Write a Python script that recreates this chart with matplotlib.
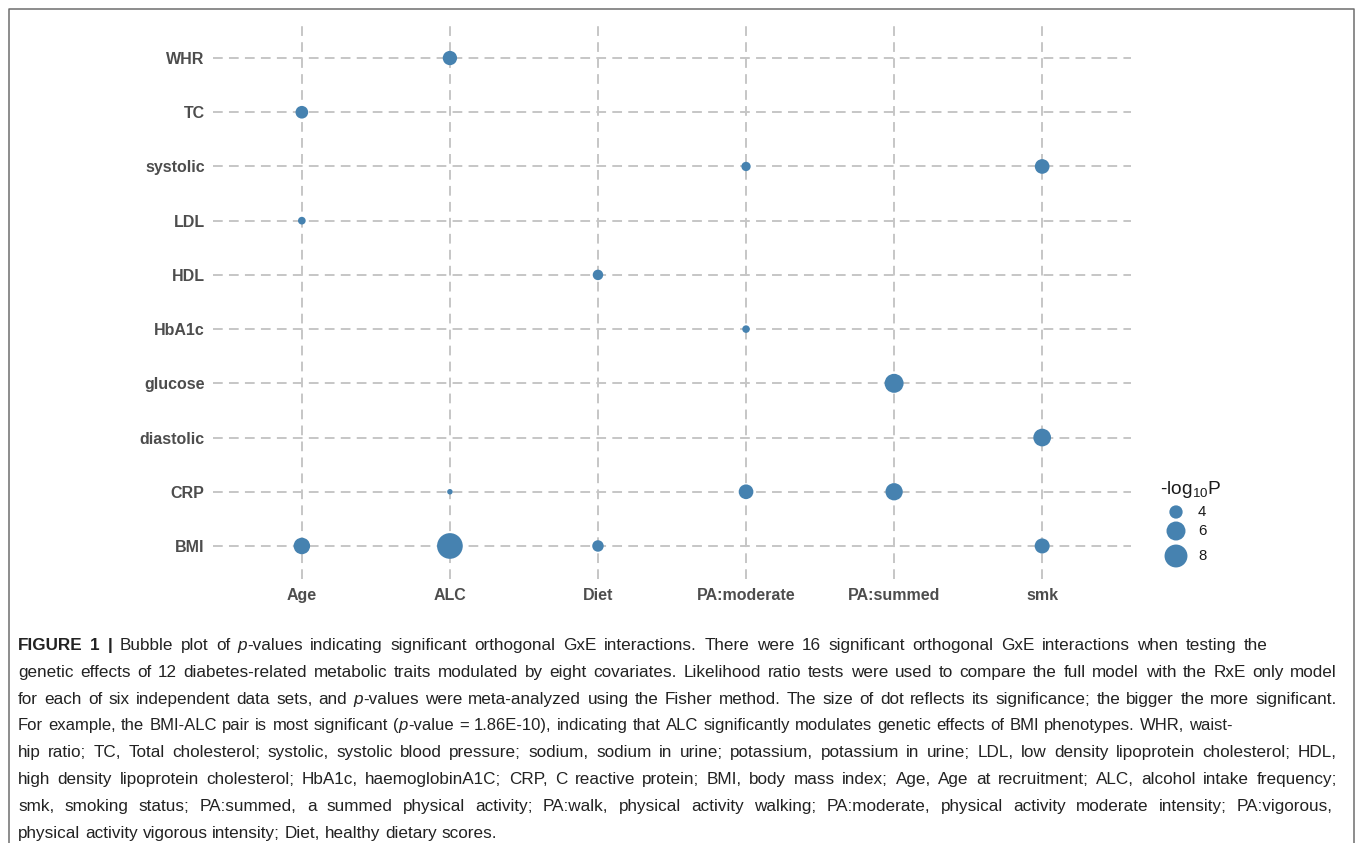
import re
import numpy as np
import matplotlib
matplotlib.use('Agg')
import matplotlib.pyplot as plt
from matplotlib.lines import Line2D

plt.rcParams['font.family'] = ['Liberation Sans', 'DejaVu Sans']
plt.rcParams['mathtext.fontset'] = 'custom'
plt.rcParams['mathtext.rm'] = 'Liberation Sans'
plt.rcParams['mathtext.it'] = 'Liberation Sans:italic'
plt.rcParams['mathtext.bf'] = 'Liberation Sans:bold'
plt.rcParams['lines.scale_dashes'] = False

W, H, DPI = 1355, 843, 100

traits = ['BMI', 'CRP', 'diastolic', 'glucose', 'HbA1c', 'HDL', 'LDL', 'systolic', 'TC', 'WHR']
covariates = ['Age', 'ALC', 'Diet', 'PA:moderate', 'PA:summed', 'smk']

# significant trait x covariate pairs and their -log10(p)
pair_trait = ['BMI', 'BMI', 'BMI', 'BMI',
              'CRP', 'CRP', 'CRP',
              'diastolic', 'glucose', 'HbA1c', 'HDL', 'LDL',
              'systolic', 'systolic', 'TC', 'WHR']
pair_cov = ['Age', 'ALC', 'Diet', 'smk',
            'ALC', 'PA:moderate', 'PA:summed',
            'smk', 'PA:summed', 'PA:moderate', 'Diet', 'Age',
            'PA:moderate', 'smk', 'Age', 'ALC']
neglog_p = [4.99, 9.73, 3.59, 4.49,
            3.00, 4.39, 5.29,
            5.45, 6.00, 3.07, 3.41, 3.08,
            3.24, 4.39, 3.85, 4.28]

legend_breaks = [4, 6, 8]

caption_lines = [
    "**FIGURE 1 |** Bubble plot of *p*-values indicating significant orthogonal GxE interactions. There were 16 significant orthogonal GxE interactions when testing the",
    "genetic effects of 12 diabetes-related metabolic traits modulated by eight covariates. Likelihood ratio tests were used to compare the full model with the RxE only model",
    "for each of six independent data sets, and *p*-values were meta-analyzed using the Fisher method. The size of dot reflects its significance; the bigger the more significant.",
    "For example, the BMI-ALC pair is most significant (*p*-value = 1.86E-10), indicating that ALC significantly modulates genetic effects of BMI phenotypes. WHR, waist-",
    "hip ratio; TC, Total cholesterol; systolic, systolic blood pressure; sodium, sodium in urine; potassium, potassium in urine; LDL, low density lipoprotein cholesterol; HDL,",
    "high density lipoprotein cholesterol; HbA1c, haemoglobinA1C; CRP, C reactive protein; BMI, body mass index; Age, Age at recruitment; ALC, alcohol intake frequency;",
    "smk, smoking status; PA:summed, a summed physical activity; PA:walk, physical activity walking; PA:moderate, physical activity moderate intensity; PA:vigorous,",
    "physical activity vigorous intensity; Diet, healthy dietary scores.",
]
# right edge (px) each caption line is spread to; None = natural spacing
caption_right = [1268, 1337, 1337, 1233, 1337, 1337, 1333, None]

DOT = '#4682b0'
GRID = '#c6c6c6'
LABEL = '#4d4d4d'

# ggplot-like area scale: diameter grows with sqrt of the rescaled value
D_MIN, D_MAX = 5.5, 25.7
vmin, vmax = min(neglog_p), max(neglog_p)


def diameter(v):
    v = np.asarray(v, dtype=float)
    return D_MIN + (D_MAX - D_MIN) * np.sqrt((v - vmin) / (vmax - vmin))


def area(v):
    return (diameter(v) * 72.0 / DPI) ** 2


fig = plt.figure(figsize=(W / DPI, H / DPI), dpi=DPI)

# panel
ax = fig.add_axes([213 / W, 1 - 578.5 / H, 918 / W, 553 / H])
xs = [covariates.index(c) for c in pair_cov]
ys = [traits.index(t) for t in pair_trait]
ax.scatter(xs, ys, s=area(neglog_p), color=DOT, linewidths=0, zorder=3)

ax.set_xticks(range(len(covariates)), covariates)
ax.set_yticks(range(len(traits)), traits)
ax.set_xlim(-0.6, len(covariates) - 0.4)
ax.set_ylim(-0.6, len(traits) - 0.4)
ax.grid(True, color=GRID, linewidth=1.4, linestyle=(0, (7, 4.5)))
ax.set_axisbelow(True)
for sp in ax.spines.values():
    sp.set_visible(False)
ax.tick_params(length=0, labelsize=11.5, labelcolor=LABEL)
ax.tick_params(axis='x', pad=7)
ax.tick_params(axis='y', pad=6)
for lab in ax.get_xticklabels() + ax.get_yticklabels():
    lab.set_fontweight('bold')

# size legend
fig.text(1160 / W, 1 - 494 / H, '-log$_{10}$P', fontsize=13.8, color='#1a1a1a',
         ha='left', va='baseline')
lax = fig.add_axes([1150 / W, 1 - 580 / H, 80 / W, 90 / H])
lax.set_xlim(0, 80)
lax.set_ylim(580, 490)
lax.axis('off')
key_y = [512, 531, 556]
lax.scatter([26] * len(legend_breaks), key_y, s=area(legend_breaks), color=DOT,
            linewidths=0, clip_on=False)
for yy, b in zip(key_y, legend_breaks):
    lax.text(48, yy, str(b), fontsize=10.8, color='#1a1a1a', ha='left', va='center')

# open frame around the figure
fig.add_artist(Line2D([9 / W, 9 / W, 1354 / W, 1354 / W], [0, 1 - 9 / H, 1 - 9 / H, 0],
                      transform=fig.transFigure, color='#6e6e6e', linewidth=1.1))

# caption, laid out word by word so lines can be spread to full width
STYLE = {'normal': {}, 'italic': {'style': 'italic'}, 'bold': {'weight': 'bold'}}
CAP_COLOR = '#222222'
CAP_MAX = 12.3
renderer = fig.canvas.get_renderer()


def parse(line):
    words = [[]]
    for part in re.split(r'(\*\*.+?\*\*|\*.+?\*)', line):
        if not part:
            continue
        if part.startswith('**'):
            style, part = 'bold', part[2:-2]
        elif part.startswith('*'):
            style, part = 'italic', part[1:-1]
        else:
            style = 'normal'
        for i, chunk in enumerate(part.split(' ')):
            if i > 0:
                words.append([])
            if chunk:
                words[-1].append((chunk, style))
    return [w for w in words if w]


def text_width(s, style, size):
    t = fig.text(0, 0, s, fontsize=size, **STYLE[style])
    w = t.get_window_extent(renderer).width
    t.remove()
    return w


def space_width(size):
    return text_width('a a', 'normal', size) - text_width('aa', 'normal', size)


X0 = 18

for i, (line, right) in enumerate(zip(caption_lines, caption_right)):
    words = parse(line)
    size = CAP_MAX
    if right is not None:
        natural = sum(text_width(p, st, size) for w in words for p, st in w)
        natural += (len(words) - 1) * space_width(size)
        size = min(CAP_MAX, size * 0.995 * (right - X0) / natural)
    widths = [[text_width(p, st, size) for p, st in w] for w in words]
    total = sum(sum(ws) for ws in widths)
    gap = space_width(size) if right is None else (right - X0 - total) / (len(words) - 1)
    baseline = 650 + 26.8 * i
    x = X0
    for w, ws in zip(words, widths):
        for (p, st), pw in zip(w, ws):
            fig.text(x / W, 1 - baseline / H, p, fontsize=size, color=CAP_COLOR,
                     ha='left', va='baseline', **STYLE[st])
            x += pw
        x += gap

fig.savefig('out.png', dpi=DPI)
